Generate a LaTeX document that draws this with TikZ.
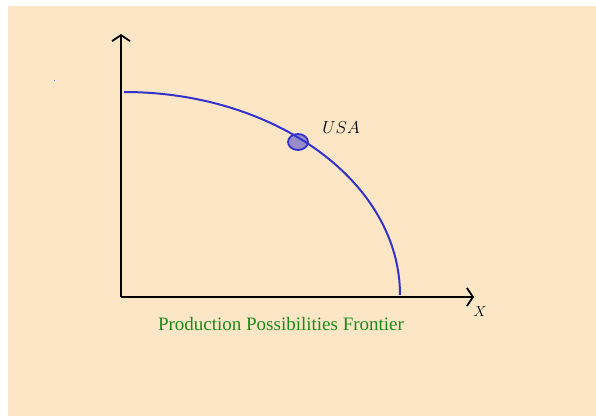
\documentclass[tikz,border=0pt]{standalone}
\usepackage{fontspec}
\newfontfamily\timesfont{Liberation Serif}
\usetikzlibrary{arrows.meta,shapes.geometric}
\definecolor{bgbeige}{HTML}{FDE6C6}
\definecolor{curveblue}{HTML}{3333CC}
\definecolor{labelgreen}{HTML}{1A8A1A}
\tikzset{
  axis/.style={line width=1.8pt, black, -{Straight Barb[length=6pt,width=18pt,line width=1.8pt]}},
  ppf/.style={line width=2pt, curveblue},
  marker/.style={draw=curveblue, line width=1.8pt, fill=curveblue, fill opacity=0.5, ellipse, minimum width=20pt, minimum height=16pt, inner sep=0pt},
}
\begin{document}
\begin{tikzpicture}[x=1pt,y=-1pt]
\useasboundingbox (0,0) rectangle (596,416);
\fill[bgbeige] (8,6) rectangle (596,416);
\fill[curveblue!70] (53.5,79.5) rectangle (55,81);
\coordinate (O) at (121,297);
\coordinate (ytop) at (121,34);
\coordinate (xend) at (474,297);
\draw[axis] (O) -- (ytop);
\draw[axis] (O) -- (xend);
\draw[ppf] (124,92) arc[start angle=90, end angle=0, x radius=276, y radius=-203];
\node[marker] (usa) at (298,142) {};
\node[font=\fontsize{16}{18}\selectfont] (usalab) at (341,128) {$USA$};
\node[font=\fontsize{14}{16}\selectfont] (xlab) at (480,312) {$X$};
\node[font=\timesfont\fontsize{19}{22}\selectfont, text=labelgreen] (title) at (281,324) {Production Possibilities Frontier};
\end{tikzpicture}
\end{document}
